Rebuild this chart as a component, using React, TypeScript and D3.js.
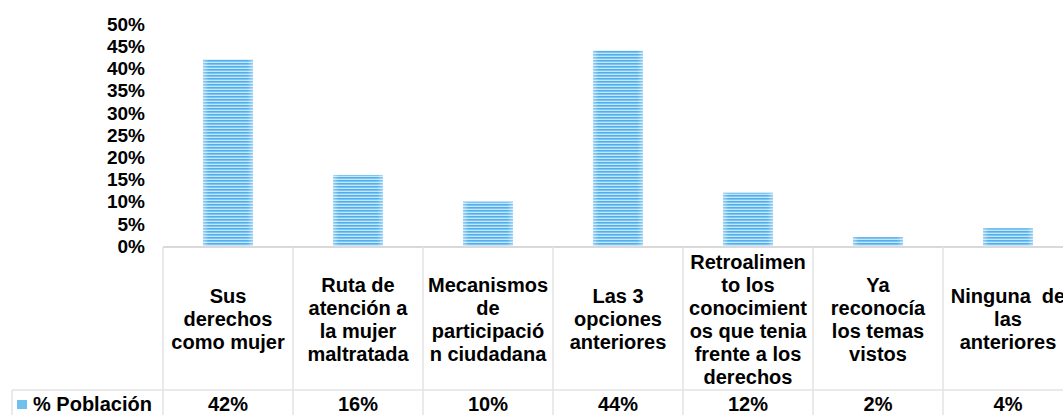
import React, { useEffect } from 'react';
import * as d3 from 'd3';

// data
const categories: string[][] = [
  ['Sus', 'derechos', 'como mujer'],
  ['Ruta de', 'atención a', 'la mujer', 'maltratada'],
  ['Mecanismos', 'de', 'participació', 'n ciudadana'],
  ['Las 3', 'opciones', 'anteriores'],
  ['Retroalimen', 'to los', 'conocimient', 'os que tenia', 'frente a los', 'derechos'],
  ['Ya', 'reconocía', 'los temas', 'vistos'],
  ['Ninguna  de', 'las', 'anteriores'],
];
const poblacion: number[] = [0.42, 0.16, 0.10, 0.44, 0.12, 0.02, 0.04];
const seriesName: string = '% Población';
const yTicks: number[] = [0, 0.05, 0.1, 0.15, 0.2, 0.25, 0.3, 0.35, 0.4, 0.45, 0.5];

const width: number = 1063;
const height: number = 415;
const plotLeft: number = 163;
const catWidth: number = 130;
const plotTop: number = 24;
const plotBottom: number = 246;
const rowLine: number = 390;
const lineHeight: number = 23;
const font = '"Liberation Sans", Arial, sans-serif';

export default function App() {
  useEffect(() => {
    document.body.style.margin = '0';
  }, []);

  const xScale: any = d3.scaleBand<number>()
    .domain(d3.range(categories.length))
    .range([plotLeft, plotLeft + catWidth * categories.length])
    .paddingInner(0.615)
    .paddingOuter(0.3075);

  const cellScale: any = d3.scaleBand<number>()
    .domain(d3.range(categories.length))
    .range([plotLeft, plotLeft + catWidth * categories.length]);

  const yScale: any = d3.scaleLinear()
    .domain([0, 0.5])
    .range([plotBottom, plotTop]);

  const pct = d3.format('.0%');
  const labelMid: number = (plotBottom + 2 + rowLine) / 2;

  return (
    <svg width={width} height={height} style={{ position: 'fixed', left: 0, top: 0, background: '#fff' }}
      fontFamily={font} fontWeight="bold">
      <defs>
        <pattern id="stripes" patternUnits="userSpaceOnUse" width={10} height={3}>
          <rect width={10} height={3} fill="#c4e5fa" />
          <rect width={10} height={1.6} fill="#4eafea" />
        </pattern>
        <linearGradient id="edge" x1="0" x2="1" y1="0" y2="0">
          <stop offset="0" stopColor="#fff" stopOpacity={0.4} />
          <stop offset="0.12" stopColor="#fff" stopOpacity={0} />
          <stop offset="0.88" stopColor="#fff" stopOpacity={0} />
          <stop offset="1" stopColor="#fff" stopOpacity={0.4} />
        </linearGradient>
      </defs>

      {/* y axis labels */}
      {yTicks.map((t) => (
        <text key={t} x={145} y={yScale(t)} dy="0.36em" textAnchor="end" fontSize={19} fill="#000">
          {pct(t)}
        </text>
      ))}

      {/* bars */}
      {poblacion.map((v, i) => (
        <g key={i}>
          <rect x={xScale(i)} y={yScale(v)} width={xScale.bandwidth()} height={plotBottom - yScale(v)} fill="url(#stripes)" />
          <rect x={xScale(i)} y={yScale(v)} width={xScale.bandwidth()} height={plotBottom - yScale(v)} fill="url(#edge)" />
        </g>
      ))}

      {/* data table grid */}
      <line x1={plotLeft} x2={width} y1={plotBottom + 1} y2={plotBottom + 1} stroke="#d9d9d9" strokeWidth={2} />
      <line x1={12} x2={width} y1={rowLine} y2={rowLine} stroke="#e3e3e3" strokeWidth={1.5} />
      <line x1={12} x2={12} y1={rowLine} y2={height} stroke="#e3e3e3" strokeWidth={1.5} />
      {d3.range(categories.length + 1).map((i) => (
        <line key={i} x1={plotLeft + i * catWidth} x2={plotLeft + i * catWidth} y1={plotBottom + 1} y2={height}
          stroke="#e3e3e3" strokeWidth={1.5} />
      ))}

      {/* category labels */}
      {categories.map((lines, i) => (
        <text key={i} x={cellScale(i) + cellScale.bandwidth() / 2} textAnchor="middle" fontSize={20} fill="#000"
          style={{ whiteSpace: 'pre' }}>
          {lines.map((ln, j) => (
            <tspan key={j} x={cellScale(i) + cellScale.bandwidth() / 2}
              y={labelMid + (j - (lines.length - 1) / 2) * lineHeight} dy="0.36em">{ln}</tspan>
          ))}
        </text>
      ))}

      {/* legend + values row */}
      <rect x={17} y={400} width={10} height={9} fill="#6fc0ef" />
      <text x={33} y={411} fontSize={20} fill="#000">{seriesName}</text>
      {poblacion.map((v, i) => (
        <text key={i} x={cellScale(i) + cellScale.bandwidth() / 2} y={411} textAnchor="middle" fontSize={20} fill="#000">
          {pct(v)}
        </text>
      ))}
    </svg>
  );
}
